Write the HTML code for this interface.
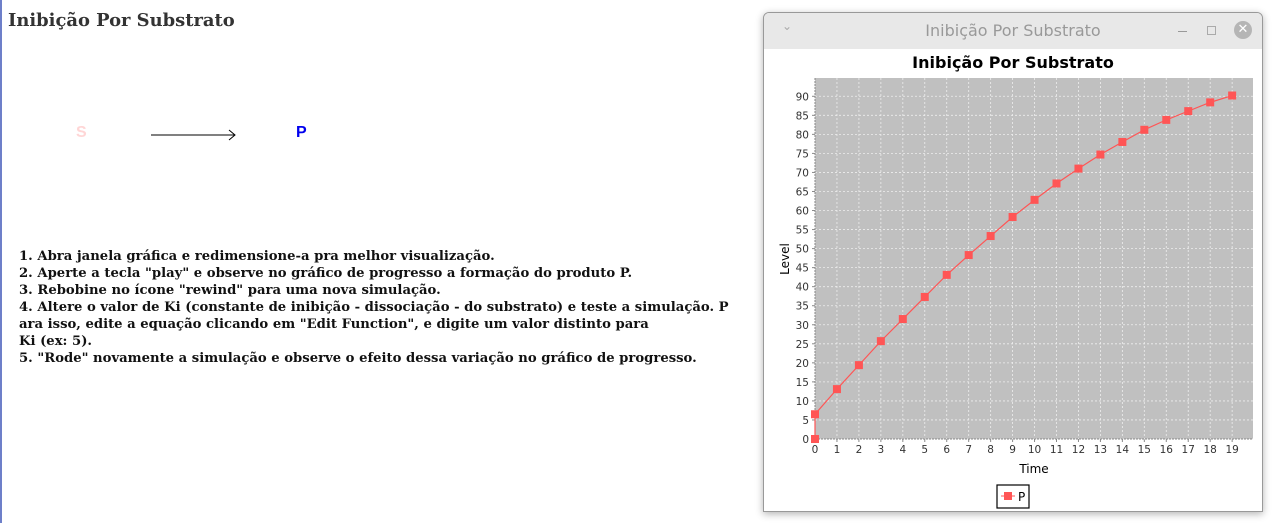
<!DOCTYPE html>
<html><head><meta charset="utf-8"><style>
body{margin:0;width:1287px;height:523px;background:#fff;position:relative;overflow:hidden;font-family:"DejaVu Serif","Liberation Serif",serif}
.abs{position:absolute}
#instr{left:19px;top:248px;font-weight:bold;font-size:13.2px;line-height:17px;color:#111;white-space:pre}
</style></head><body>
<div class="abs" style="left:0;top:0;width:2px;height:523px;background:#6d7fc9"></div>
<div class="abs" style="left:8px;top:10px;font-size:17.9px;font-weight:bold;color:#333">Inibição Por Substrato</div>
<div class="abs" style="left:76px;top:124px;font-family:'Liberation Sans',sans-serif;font-weight:bold;font-size:16px;color:#ffd6d6">S</div>
<svg class="abs" style="left:150px;top:129px" width="90" height="12"><line x1="1" y1="6" x2="85" y2="6" stroke="#000"/><path d="M79 1 L85 6 L79 11" fill="none" stroke="#000"/></svg>
<div class="abs" style="left:296px;top:124px;font-family:'Liberation Sans',sans-serif;font-weight:bold;font-size:16px;color:#0000ee">P</div>
<div class="abs" id="instr">1. Abra janela gráfica e redimensione-a pra melhor visualização.
2. Aperte a tecla "play" e observe no gráfico de progresso a formação do produto P.
3. Rebobine no ícone "rewind" para uma nova simulação.
4. Altere o valor de Ki (constante de inibição - dissociação - do substrato) e teste a simulação. P
ara isso, edite a equação clicando em "Edit Function", e digite um valor distinto para
Ki (ex: 5).
5. "Rode" novamente a simulação e observe o efeito dessa variação no gráfico de progresso.</div>

<div class="abs" style="left:763px;top:12px;width:498px;height:498px;border:1px solid #999;border-radius:6px 6px 0 0;box-shadow:0 2px 8px rgba(0,0,0,.3);background:#fff;overflow:hidden">
 <div style="height:36px;background:#e8e8e8;position:relative;font-family:'DejaVu Sans',sans-serif">
  <div style="position:absolute;left:0;width:100%;top:8px;text-align:center;font-size:16px;color:#999">Inibição Por Substrato</div>
  <div style="position:absolute;left:18px;top:6px;color:#aaa;font-size:12px">⌄</div>
  <div style="position:absolute;left:414px;top:18px;width:9px;height:1px;background:#999"></div>
  <div style="position:absolute;left:443px;top:13px;width:7px;height:7px;border:1px solid #aaa"></div>
  <div style="position:absolute;left:470px;top:8px;width:18px;height:18px;border-radius:50%;background:#b5b5b5;color:#fff;font-size:13px;text-align:center;line-height:18px">✕</div>
 </div>
</div>
<svg id="chart" class="abs" style="left:0;top:0" width="1287" height="523"></svg>
<script>
const times=[0,0,1,2,3,4,5,6,7,8,9,10,11,12,13,14,15,16,17,18,19];
const levels=[0,6.5,13.1,19.4,25.7,31.5,37.3,43.1,48.3,53.3,58.3,62.8,67.1,71.0,74.7,78.0,81.2,83.8,86.1,88.4,90.2];
const xTicks=[0,1,2,3,4,5,6,7,8,9,10,11,12,13,14,15,16,17,18,19];
const yTicks=[0,5,10,15,20,25,30,35,40,45,50,55,60,65,70,75,80,85,90];
const seriesName="P";
const L=815,R=1253,T=78,B=439,xMax=19.95,yMax=94.8;
const X=v=>L+v/xMax*(R-L), Y=v=>B-v/yMax*(B-T);
const svg=document.getElementById('chart');const NS='http://www.w3.org/2000/svg';
function mk(t,a,p){const e=document.createElementNS(NS,t);for(const k in a)e.setAttribute(k,a[k]);(p||svg).appendChild(e);return e;}
const F='font-family:"DejaVu Sans",sans-serif';
let t=mk('text',{x:1013,y:68,'text-anchor':'middle',style:F+';font-size:16px;font-weight:bold'});t.textContent='Inibição Por Substrato';


let bg=mk('rect',{x:L,y:T,width:R-L,height:B-T,fill:'#c0c0c0'});


xTicks.forEach(v=>{const g=mk('line',{x1:X(v),x2:X(v),y1:T,y2:B,stroke:'#eee','stroke-dasharray':'2,2','stroke-width':0.8});


const l=mk('text',{x:X(v),y:B+14,'text-anchor':'middle',style:F+';font-size:10.5px',fill:'#333'});l.textContent=v;


mk('line',{x1:X(v),x2:X(v),y1:B,y2:B+3,stroke:'#888'});});
yTicks.forEach(v=>{const g=mk('line',{x1:L,x2:R,y1:Y(v),y2:Y(v),stroke:'#eee','stroke-dasharray':'2,2','stroke-width':0.8});


const l=mk('text',{x:L-6,y:Y(v)+4,'text-anchor':'end',style:F+';font-size:10.5px',fill:'#333'});l.textContent=v;


mk('line',{x1:L-3,x2:L,y1:Y(v),y2:Y(v),stroke:'#888'});});
mk('line',{x1:L,x2:L,y1:T,y2:B,stroke:'#888','stroke-dasharray':'2,1'});
mk('line',{x1:L,x2:R,y1:B,y2:B,stroke:'#888','stroke-dasharray':'2,1'});
let xl=mk('text',{x:1034,y:473,'text-anchor':'middle',style:F+';font-size:12px'});xl.textContent='Time';


let yl=mk('text',{x:0,y:0,'text-anchor':'middle',transform:'translate(789,259) rotate(-90)',style:F+';font-size:12px'});yl.textContent='Level';


let ln=mk('polyline',{points:times.map((v,i)=>X(v)+','+Y(levels[i])).join(' '),fill:'none',stroke:'#ff5555','stroke-width':1.2});


times.forEach((v,i)=>{const m=mk('rect',{x:X(v)-4,y:Y(levels[i])-4,width:8,height:8,fill:'#ff5555'});

});
let lg=mk('g',{});


mk('rect',{x:997,y:485,width:32,height:23,fill:'#fff',stroke:'#000','stroke-width':1.2},lg);
mk('line',{x1:1001,x2:1015,y1:496,y2:496,stroke:'#ff5555'},lg);
mk('rect',{x:1004,y:492,width:8,height:8,fill:'#ff5555'},lg);
let lt=mk('text',{x:1018,y:501,style:F+';font-size:12px'},lg);lt.textContent=seriesName;
</script>
</body></html>
